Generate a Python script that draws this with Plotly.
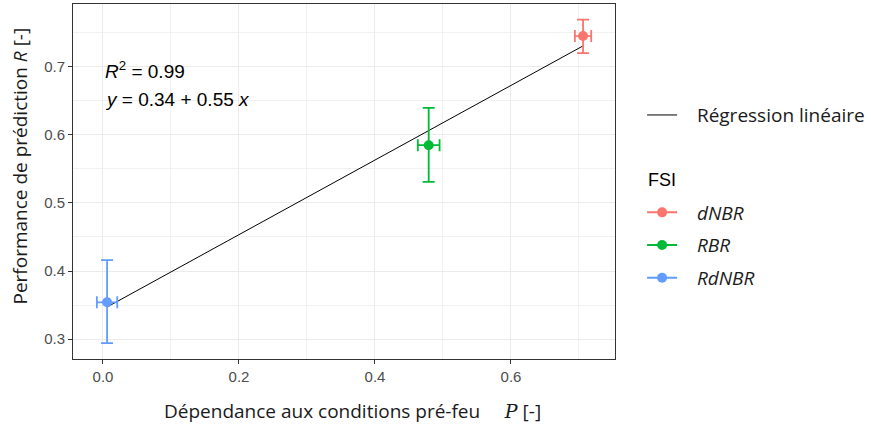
import numpy as np
import plotly.graph_objects as go

# ---- data ----
fsi = ["dNBR", "RBR", "RdNBR"]
colors = ["#F8766D", "#00BA38", "#619CFF"]
p_vals = [0.706, 0.479, 0.006]
p_err = [0.012, 0.016, 0.015]
r_vals = [0.7455, 0.585, 0.354]
r_err_plus = [0.024, 0.055, 0.062]
r_err_minus = [0.025, 0.054, 0.060]

x_ticks = [0.0, 0.2, 0.4, 0.6]
y_ticks = [0.3, 0.4, 0.5, 0.6, 0.7]

slope, intercept = np.polyfit(p_vals, r_vals, 1)
pred = intercept + slope * np.array(p_vals)
ss_res = np.sum((np.array(r_vals) - pred) ** 2)
ss_tot = np.sum((np.array(r_vals) - np.mean(r_vals)) ** 2)
r2 = 1 - ss_res / ss_tot

pad = "&nbsp;" * 3

fig = go.Figure()

xl = np.array([min(p_vals), max(p_vals)])
fig.add_trace(go.Scatter(
    x=xl, y=intercept + slope * xl, mode="lines",
    line=dict(color="black", width=1),
    name=pad + "Régression linéaire", legend="legend",
))

for i in range(len(fsi)):
    fig.add_trace(go.Scatter(
        x=[p_vals[i]], y=[r_vals[i]], mode="lines+markers",
        marker=dict(color=colors[i], size=10),
        line=dict(color=colors[i], width=2),
        error_x=dict(type="data", array=[p_err[i]], color=colors[i], thickness=1.8, width=6),
        error_y=dict(type="data", array=[r_err_plus[i]], arrayminus=[r_err_minus[i]],
                     color=colors[i], thickness=1.8, width=6),
        name=pad + "<i>%s</i>" % fsi[i], legend="legend2", legendgroup=fsi[i],
    ))

serif = "font-family:'DejaVu Serif';font-style:italic"
eq_font = dict(family="Liberation Sans, Arial", size=19, color="black")
fig.add_annotation(x=0.0, y=0.6956, xref="x", yref="y", xanchor="left", yanchor="middle",
                   text="<i>R</i><sup>2</sup> = %.2f" % r2, showarrow=False, font=eq_font)
fig.add_annotation(x=0.0, y=0.6515, xref="x", yref="y", xanchor="left", yanchor="middle",
                   text="<i>y</i> = %.2f + %.2f <i>x</i>" % (intercept, slope), showarrow=False,
                   font=eq_font)

title_font = dict(family="Open Sans", size=19, color="#1A1A1A")
# axis titles
fig.add_annotation(xref="paper", yref="paper", x=0.5148, y=-0.1465, xanchor="center", yanchor="middle",
                   text="Dépendance aux conditions pré-feu&nbsp;&nbsp;&nbsp;&nbsp; <span style=\"%s\">P</span> [-]" % serif,
                   showarrow=False, font=title_font)
fig.add_annotation(xref="paper", yref="paper", x=-0.0978, y=0.545, xanchor="center", yanchor="middle",
                   textangle=-90, text="Performance de prédiction <i>R</i> [-]",
                   showarrow=False, font=title_font)
# legend title for FSI group
fig.add_annotation(xref="paper", yref="paper", x=1.0572, y=0.5042, xanchor="left", yanchor="middle",
                   text="FSI", showarrow=False,
                   font=dict(family="Liberation Sans, Arial", size=18, color="black"))

axis_common = dict(
    showline=True, mirror=True, linecolor="#333333", linewidth=1,
    ticks="outside", ticklen=4, tickcolor="#333333", tickwidth=1,
    showgrid=True, gridcolor="#EBEBEB", gridwidth=1.2, zeroline=False,
    tickfont=dict(family="Liberation Sans, Arial", size=15, color="#4D4D4D"),
    automargin=False,
)

fig.update_xaxes(
    range=[-0.0441, 0.753], tickvals=x_ticks, ticktext=["%.1f" % v for v in x_ticks],
    minor=dict(dtick=0.1, tick0=0.1, showgrid=True, gridcolor="#F1F1F1", gridwidth=0.7, ticks=""),
    **axis_common,
)
fig.update_yaxes(
    range=[0.2706, 0.7926], tickvals=y_ticks, ticktext=["%.1f" % v for v in y_ticks],
    minor=dict(dtick=0.05, tick0=0.25, showgrid=True, gridcolor="#F1F1F1", gridwidth=0.7, ticks=""),
    **axis_common,
)

fig.update_layout(
    width=871, height=428,
    margin=dict(l=73, r=256, t=4, b=69, autoexpand=False),
    plot_bgcolor="white", paper_bgcolor="white",
    showlegend=True,
    legend=dict(x=1.05, y=0.687, xanchor="left", yanchor="middle",
                font=dict(family="Open Sans", size=19, color="#1A1A1A"),
                itemwidth=30, bgcolor="rgba(0,0,0,0)"),
    legend2=dict(x=1.05, y=0.3197, xanchor="left", yanchor="middle",
                 font=dict(family="Open Sans", size=19, color="#1A1A1A"),
                 itemwidth=30, tracegroupgap=5, traceorder="grouped", bgcolor="rgba(0,0,0,0)"),
)

fig.write_html("out.html", config={"displayModeBar": False},
               post_script="document.body.style.margin='0px';")
